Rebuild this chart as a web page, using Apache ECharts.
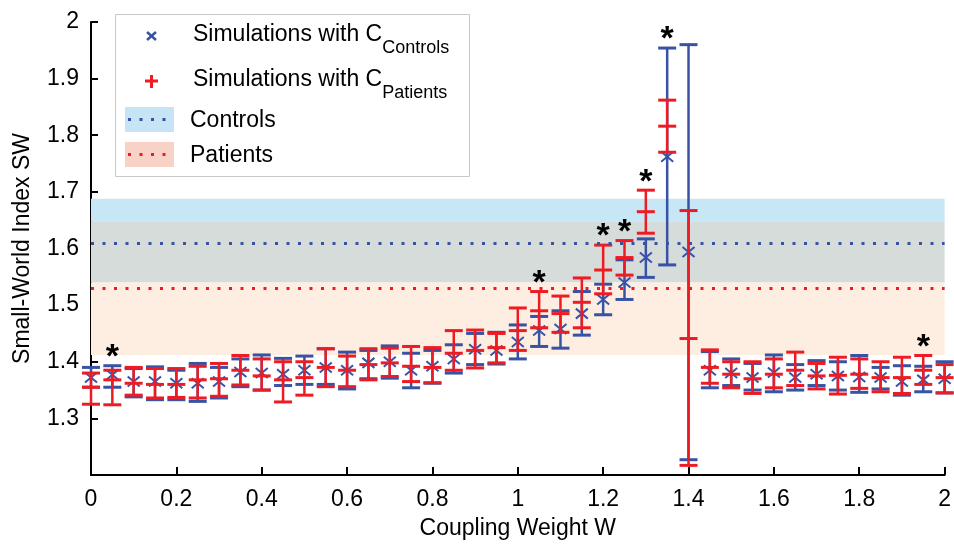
<!DOCTYPE html>
<html>
<head>
<meta charset="utf-8">
<script src="https://cdn.jsdelivr.net/npm/echarts@6/dist/echarts.min.js"></script>
<style>
html,body{margin:0;padding:0;background:#fff;}
#chart{width:954px;height:545px;}
</style>
</head>
<body>
<div id="chart"></div>
<script>
// ---------------- data ----------------
const wValues = [0, 0.05, 0.1, 0.15, 0.2, 0.25, 0.3, 0.35, 0.4, 0.45, 0.5, 0.55, 0.6, 0.65, 0.7, 0.75, 0.8, 0.85, 0.9, 0.95,
  1.0, 1.05, 1.1, 1.15, 1.2, 1.25, 1.3, 1.35, 1.4, 1.45, 1.5, 1.55, 1.6, 1.65, 1.7, 1.75, 1.8, 1.85, 1.9, 1.95, 2.0];

const ctrlMean = [1.372, 1.377, 1.365, 1.365, 1.362, 1.362, 1.365, 1.382, 1.380, 1.378, 1.385, 1.390, 1.385, 1.398, 1.400, 1.385, 1.392, 1.405, 1.422, 1.420,
  1.435, 1.455, 1.458, 1.485, 1.510, 1.540, 1.584, 1.762, 1.594, 1.385, 1.380, 1.372, 1.381, 1.372, 1.378, 1.375, 1.373, 1.372, 1.365, 1.368, 1.370];
const ctrlLow = [1.355, 1.355, 1.338, 1.333, 1.333, 1.330, 1.336, 1.356, 1.350, 1.358, 1.360, 1.360, 1.352, 1.370, 1.371, 1.354, 1.362, 1.380, 1.395, 1.396,
  1.405, 1.427, 1.424, 1.447, 1.483, 1.510, 1.549, 1.571, 1.227, 1.354, 1.358, 1.350, 1.347, 1.350, 1.358, 1.350, 1.346, 1.352, 1.341, 1.347, 1.345];
const ctrlHigh = [1.390, 1.393, 1.388, 1.391, 1.385, 1.397, 1.390, 1.405, 1.412, 1.406, 1.410, 1.423, 1.417, 1.420, 1.428, 1.415, 1.420, 1.430, 1.450, 1.452,
  1.465, 1.480, 1.490, 1.524, 1.537, 1.580, 1.617, 1.954, 1.960, 1.418, 1.405, 1.397, 1.412, 1.395, 1.402, 1.400, 1.411, 1.390, 1.393, 1.392, 1.400];

const patMean = [1.355, 1.368, 1.362, 1.360, 1.360, 1.368, 1.370, 1.385, 1.375, 1.368, 1.372, 1.390, 1.385, 1.395, 1.398, 1.392, 1.390, 1.415, 1.420, 1.425,
  1.455, 1.490, 1.485, 1.505, 1.562, 1.584, 1.665, 1.816, 1.441, 1.390, 1.378, 1.370, 1.378, 1.385, 1.375, 1.376, 1.378, 1.372, 1.372, 1.385, 1.372];
const patLow = [1.325, 1.324, 1.341, 1.336, 1.337, 1.336, 1.339, 1.359, 1.350, 1.329, 1.341, 1.356, 1.356, 1.368, 1.374, 1.365, 1.363, 1.385, 1.389, 1.398,
  1.420, 1.460, 1.452, 1.460, 1.520, 1.553, 1.627, 1.770, 1.217, 1.362, 1.354, 1.344, 1.354, 1.358, 1.352, 1.343, 1.353, 1.347, 1.344, 1.360, 1.345];
const patHigh = [1.380, 1.385, 1.390, 1.388, 1.388, 1.392, 1.397, 1.411, 1.405, 1.400, 1.400, 1.423, 1.410, 1.423, 1.424, 1.427, 1.425, 1.455, 1.456, 1.450,
  1.495, 1.524, 1.516, 1.548, 1.606, 1.614, 1.703, 1.862, 1.667, 1.421, 1.400, 1.400, 1.405, 1.417, 1.397, 1.408, 1.405, 1.400, 1.408, 1.411, 1.395];

// empirical bands: [Controls, Patients]
const bandNames = ['Controls', 'Patients'];
const bandMean = [1.614, 1.530];
const bandLow = [1.540, 1.412];
const bandHigh = [1.688, 1.648];

// significance markers
const starW = [0.05, 1.05, 1.2, 1.25, 1.3, 1.35, 1.95];

const xTickLabels = ['0', '0.2', '0.4', '0.6', '0.8', '1', '1.2', '1.4', '1.6', '1.8', '2'];
const yTickLabels = ['1.2', '1.3', '1.4', '1.5', '1.6', '1.7', '1.8', '1.9', '2'];

// ---------------- styles ----------------
const BLUE = '#3953a4';
const RED = '#ed1c24';
const FONT = '"Liberation Sans", Arial, Helvetica, sans-serif';

function errRender(color, kind) {
  return function (params, api) {
    const x = api.value(0), lo = api.value(1), hi = api.value(2), m = api.value(3);
    const pLo = api.coord([x, lo]), pHi = api.coord([x, hi]), pM = api.coord([x, m]);
    const cw = 9;
    const children = [
      {type: 'line', shape: {x1: pLo[0], y1: pLo[1], x2: pHi[0], y2: pHi[1]}, style: {stroke: color, lineWidth: 2.5}},
      {type: 'line', shape: {x1: pLo[0] - cw, y1: pLo[1], x2: pLo[0] + cw, y2: pLo[1]}, style: {stroke: color, lineWidth: 3}},
      {type: 'line', shape: {x1: pHi[0] - cw, y1: pHi[1], x2: pHi[0] + cw, y2: pHi[1]}, style: {stroke: color, lineWidth: 3}}
    ];
    if (kind === 'x') {
      const a = 6, b = 5;
      children.push({type: 'line', shape: {x1: pM[0] - a, y1: pM[1] - b, x2: pM[0] + a, y2: pM[1] + b}, style: {stroke: color, lineWidth: 2}});
      children.push({type: 'line', shape: {x1: pM[0] - a, y1: pM[1] + b, x2: pM[0] + a, y2: pM[1] - b}, style: {stroke: color, lineWidth: 2}});
    } else {
      children.push({type: 'line', shape: {x1: pM[0] - cw, y1: pM[1], x2: pM[0] + cw, y2: pM[1]}, style: {stroke: color, lineWidth: 3}});
    }
    return {type: 'group', children: children};
  };
}

const ctrlData = wValues.map((w, i) => [w, ctrlLow[i], ctrlHigh[i], ctrlMean[i]]);
const patData = wValues.map((w, i) => [w, patLow[i], patHigh[i], patMean[i]]);
const starData = starW.map(w => {
  const i = wValues.indexOf(w);
  return [w, Math.max(ctrlHigh[i], patHigh[i])];
});

// band areas (controls-only, overlap, patients-only)
const areaData = [
  [{yAxis: bandHigh[1], itemStyle: {color: '#c7e6f6'}}, {yAxis: bandHigh[0]}],
  [{yAxis: bandLow[0], itemStyle: {color: '#d6dcd9'}}, {yAxis: bandHigh[1]}],
  [{yAxis: bandLow[1], itemStyle: {color: '#fdeee1'}}, {yAxis: bandLow[0]}]
];

// legend text measure
const mctx = document.createElement('canvas').getContext('2d');
mctx.font = '23px "Liberation Sans"';
const mainW = mctx.measureText('Simulations with C').width;

const LX = 193;
const legendGraphics = [
  {type: 'rect', shape: {x: 115.5, y: 14.5, width: 354, height: 162}, style: {fill: '#fff', stroke: '#c8c8c8', lineWidth: 1}, z: 100},
  // blue x
  {type: 'line', shape: {x1: 147, y1: 32, x2: 156, y2: 40}, style: {stroke: BLUE, lineWidth: 2.5}, z: 101},
  {type: 'line', shape: {x1: 147, y1: 40, x2: 156, y2: 32}, style: {stroke: BLUE, lineWidth: 2.5}, z: 101},
  {type: 'text', x: LX, y: 35, style: {text: 'Simulations with C', font: '23px ' + FONT, fill: '#000', textVerticalAlign: 'middle'}, z: 101},
  {type: 'text', x: LX + mainW, y: 48, style: {text: 'Controls', font: '18px ' + FONT, fill: '#000', textVerticalAlign: 'middle'}, z: 101},
  // red +
  {type: 'line', shape: {x1: 145, y1: 81, x2: 158, y2: 81}, style: {stroke: RED, lineWidth: 3}, z: 101},
  {type: 'line', shape: {x1: 151.5, y1: 75, x2: 151.5, y2: 88}, style: {stroke: RED, lineWidth: 3}, z: 101},
  {type: 'text', x: LX, y: 80, style: {text: 'Simulations with C', font: '23px ' + FONT, fill: '#000', textVerticalAlign: 'middle'}, z: 101},
  {type: 'text', x: LX + mainW, y: 93, style: {text: 'Patients', font: '18px ' + FONT, fill: '#000', textVerticalAlign: 'middle'}, z: 101},
  // patches
  {type: 'rect', shape: {x: 125, y: 107, width: 49, height: 25}, style: {fill: '#c6e4f5'}, z: 101},
  {type: 'rect', shape: {x: 125, y: 142, width: 49, height: 25}, style: {fill: '#f8d2c6'}, z: 101},
  {type: 'text', x: 190, y: 121, style: {text: bandNames[0], font: '23px ' + FONT, fill: '#000', textVerticalAlign: 'middle'}, z: 101},
  {type: 'text', x: 190, y: 156, style: {text: bandNames[1], font: '23px ' + FONT, fill: '#000', textVerticalAlign: 'middle'}, z: 101}
];
[0, 1, 2, 3].forEach(k => {
  legendGraphics.push({type: 'rect', shape: {x: 128 + k * 11.5, y: 118, width: 3, height: 3}, style: {fill: BLUE}, z: 102});
  legendGraphics.push({type: 'rect', shape: {x: 128 + k * 11.5, y: 153, width: 3, height: 3}, style: {fill: RED}, z: 102});
});

const chart = echarts.init(document.getElementById('chart'), null, {renderer: 'canvas'});
chart.setOption({
  animation: false,
  backgroundColor: '#fff',
  grid: {left: 91, right: 4, top: 22, bottom: 64, containLabel: false},
  xAxis: {
    type: 'value', min: 0, max: 2, interval: 0.2,
    name: 'Coupling Weight W', nameLocation: 'middle', nameGap: 42,
    nameTextStyle: {fontFamily: FONT, fontSize: 23, color: '#000'},
    axisLine: {lineStyle: {color: '#000', width: 2}},
    axisTick: {inside: true, length: 8, lineStyle: {color: '#000', width: 2}},
    axisLabel: {fontFamily: FONT, fontSize: 23, color: '#000', margin: 13,
      formatter: v => xTickLabels[Math.round(v / 0.2)]},
    splitLine: {show: false}
  },
  yAxis: {
    type: 'value', min: 1.2, max: 2, interval: 0.1,
    name: 'Small-World Index SW', nameLocation: 'middle', nameGap: 57, nameRotate: 90,
    nameTextStyle: {fontFamily: FONT, fontSize: 23, color: '#000'},
    axisLine: {lineStyle: {color: '#000', width: 2}},
    axisTick: {inside: true, length: 7, lineStyle: {color: '#000', width: 2}},
    axisLabel: {fontFamily: FONT, fontSize: 23, color: '#000', margin: 12, showMinLabel: false,
      formatter: v => yTickLabels[Math.round((v - 1.2) / 0.1)]},
    splitLine: {show: false}
  },
  graphic: legendGraphics,
  series: [
    {
      type: 'line', data: [], z: 1, silent: true,
      markArea: {silent: true, data: areaData}
    },
    {
      type: 'line', data: [], z: 2, silent: true,
      markLine: {
        silent: true, symbol: ['none', 'none'], label: {show: false},
        data: [
          {yAxis: bandMean[0], lineStyle: {color: BLUE, width: 3, type: [3, 8.5], cap: 'butt'}},
          {yAxis: bandMean[1], lineStyle: {color: RED, width: 3, type: [3, 8.5], cap: 'butt'}}
        ]
      }
    },
    {
      name: 'Controls', type: 'custom', z: 3, clip: false, silent: true,
      renderItem: errRender(BLUE, 'x'),
      encode: {x: 0, y: [1, 2]},
      data: ctrlData
    },
    {
      name: 'Patients', type: 'custom', z: 4, clip: false, silent: true,
      renderItem: errRender(RED, '+'),
      encode: {x: 0, y: [1, 2]},
      data: patData
    },
    {
      name: 'stars', type: 'custom', z: 5, clip: false, silent: true,
      renderItem: function (params, api) {
        const p = api.coord([api.value(0), api.value(1)]);
        return {type: 'text', x: p[0], y: p[1] - 8,
          style: {text: '*', font: 'bold 34px ' + FONT, fill: '#000', textAlign: 'center', textVerticalAlign: 'middle'}};
      },
      encode: {x: 0, y: 1},
      data: starData
    }
  ]
});
</script>
</body>
</html>
